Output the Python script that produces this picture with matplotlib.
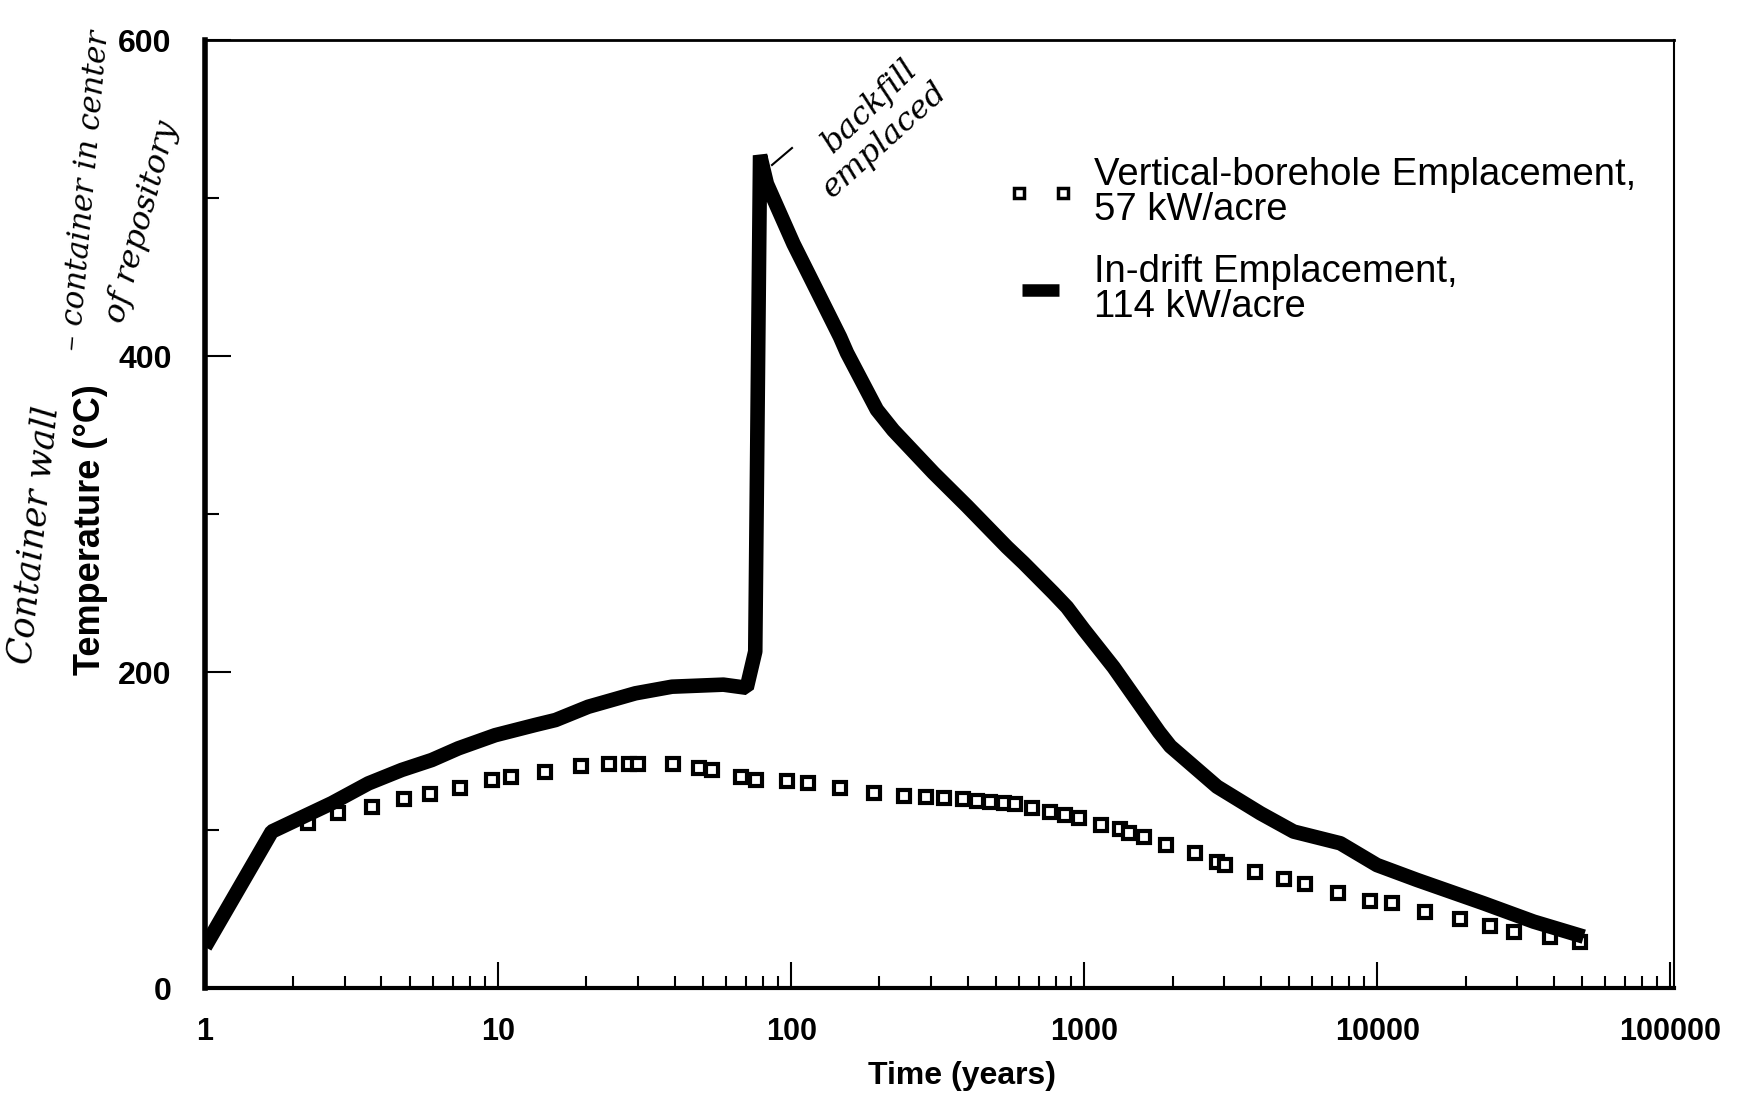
import matplotlib
matplotlib.use("Agg")
import matplotlib.pyplot as plt
from matplotlib.lines import Line2D
from matplotlib.legend_handler import HandlerLine2D
from matplotlib.ticker import FixedLocator, NullFormatter

# ---------------- data ----------------
t_drift = [1.0, 1.69, 2.14, 2.71, 3.61, 4.69, 5.94, 7.32, 9.77, 13.4, 15.7, 20.3,
           29.4, 39.2, 58.7, 70.5, 75.4, 78.3, 82.6, 101.8, 116, 146.8, 155, 196,
           223, 306, 398, 545, 621, 785, 873, 995, 1259, 1800, 1966, 2839, 3990,
           5180, 7474, 9970, 13650, 23050, 34150, 50600]
temp_drift = [26, 99, 108, 117, 129.5, 138, 144.3, 151.7, 160, 166.5, 169.6, 178,
              186.5, 190.7, 192, 190, 213, 527, 509, 471, 450, 412, 402, 366,
              353, 326, 305, 279, 269, 250, 241, 227, 203, 162, 153, 127.4, 110.6,
              99, 91.6, 77.8, 68.4, 53.6, 42, 32.5]

t_bore = [2.25, 2.85, 3.71, 4.78, 5.86, 7.42, 9.52, 11.07, 14.5, 19.2, 23.9, 28.0,
          30.0, 39.6, 48.3, 53.5, 67.6, 76, 96.7, 114.5, 147, 191, 241.7, 289, 333,
          387, 430, 478, 531, 582, 663, 765, 861, 957, 1141, 1327, 1417, 1603, 1905,
          2393, 2839, 3030, 3833, 4791, 5675, 7345, 9460, 11220, 14590, 19200,
          24300, 29190, 38900, 49300]
temp_bore = [104.6, 110.6, 114.7, 119.6, 122.6, 126.8, 131.6, 133.7, 136.9, 140.5,
             141.6, 141.6, 141.6, 142, 139.5, 138, 133.7, 131.6, 131, 130, 126.4,
             123.2, 121.5, 120.7, 120, 119.4, 118.5, 117.5, 117.3, 116.5, 114.2,
             111.2, 109.5, 107.4, 103.2, 100.4, 97.9, 95.8, 90.5, 85.7, 80, 77.8,
             73.2, 68.8, 65.6, 60.3, 55, 53.6, 48.3, 43.5, 39.4, 35.6, 32.5, 29.3]

x_ticks = [1, 10, 100, 1000, 10000, 100000]
x_tick_labels = ["1", "10", "100", "1000", "10000", "100000"]
y_ticks = [0, 200, 400, 600]
y_tick_labels = ["0", "200", "400", "600"]
y_minor = [100, 300, 500]

label_bore = "Vertical-borehole Emplacement,\n57 kW/acre"
label_drift = "In-drift Emplacement,\n114 kW/acre"

# ---------------- figure ----------------
SANS = ["Liberation Sans", "DejaVu Sans"]
plt.rcParams["font.family"] = SANS

W, H = 1738, 1099
fig = plt.figure(figsize=(W / 100, H / 100), dpi=100)
ax = fig.add_axes([205 / W, 1 - 988 / H, (1674 - 205) / W, (988 - 40) / H])

ax.plot(t_bore, temp_bore, linestyle="none", marker="s", markersize=8,
        markerfacecolor="white", markeredgecolor="black", markeredgewidth=3,
        zorder=2)
ax.plot(t_drift, temp_drift, color="black", linewidth=10.5,
        solid_joinstyle="bevel", solid_capstyle="butt", zorder=3)

ax.set_xscale("log")
ax.set_xlim(1, 10 ** 5.012)
ax.set_ylim(0, 600)

ax.xaxis.set_major_locator(FixedLocator(x_ticks))
ax.set_xticklabels(x_tick_labels)
minor_x = [m * 10 ** e for e in range(0, 5) for m in range(2, 10)]
ax.xaxis.set_minor_locator(FixedLocator(minor_x))
ax.xaxis.set_minor_formatter(NullFormatter())
ax.yaxis.set_major_locator(FixedLocator(y_ticks))
ax.set_yticklabels(y_tick_labels)
ax.yaxis.set_minor_locator(FixedLocator(y_minor))

ax.tick_params(axis="x", which="major", direction="in", length=19, width=1.5,
               pad=21, labelsize=22)
ax.tick_params(axis="x", which="minor", direction="in", length=9, width=1.5)
ax.tick_params(axis="y", which="major", direction="in", length=19, width=1.5,
               pad=24, labelsize=23)
ax.tick_params(axis="y", which="minor", direction="in", length=10, width=1.5)
for lab in ax.get_xticklabels() + ax.get_yticklabels():
    lab.set_fontweight("bold")

ax.spines["left"].set_linewidth(4)
ax.spines["bottom"].set_linewidth(3)
ax.spines["top"].set_linewidth(2)
ax.spines["right"].set_linewidth(1.5)

ax.set_xlabel("Time (years)", fontsize=23, fontweight="bold")
ax.xaxis.set_label_coords(0.515, -0.077)
ax.set_ylabel("Temperature (\u00b0C)", fontsize=26, fontweight="bold")
ax.yaxis.set_label_coords(-0.066, 0.483)

# legend
h_bore = Line2D([], [], linestyle="none", marker="s", markersize=7,
                markerfacecolor="white", markeredgecolor="black",
                markeredgewidth=2.5)
h_drift = Line2D([], [], color="black", linewidth=9, solid_capstyle="butt")
leg = ax.legend([h_bore, h_drift], [label_bore, label_drift],
                loc="upper left", bbox_to_anchor=(1011 / W, 1 - 157 / H),
                bbox_transform=fig.transFigure, frameon=False, fontsize=27.5,
                numpoints=2, handlelength=1.55, handletextpad=0.63,
                borderpad=0, borderaxespad=0, labelspacing=0.7,
                handler_map={h_bore: HandlerLine2D(numpoints=2, marker_pad=0.2)})
for t in leg.get_texts():
    t.set_linespacing(0.95)

# handwritten notes
HAND = dict(family="DejaVu Serif", style="italic", color="black",
            ha="center", va="center")
fig.text(34 / W, 1 - 535 / H, "Container wall", rotation=84, fontsize=25, **HAND)
fig.text(86 / W, 1 - 190 / H, "\u2013 container in center", rotation=85,
         fontsize=22, **HAND)
fig.text(142 / W, 1 - 222 / H, "of repository", rotation=75, fontsize=23, **HAND)
fig.text(870 / W, 1 - 106 / H, "backfill", rotation=44, fontsize=23, **HAND)
fig.text(884 / W, 1 - 140 / H, "emplaced", rotation=42, fontsize=23, **HAND)
fig.add_artist(Line2D([772 / W, 792 / W], [1 - 165 / H, 1 - 148 / H],
                      color="black", linewidth=1.5))

fig.savefig("out.png", dpi=100, facecolor="white")
